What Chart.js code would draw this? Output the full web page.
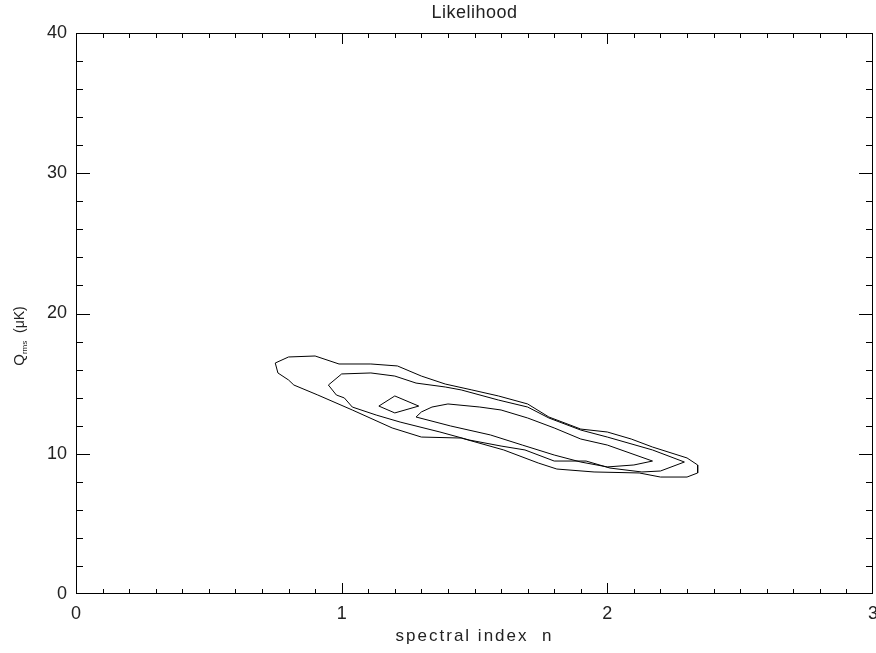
<!DOCTYPE html>
<html>
<head>
<meta charset="utf-8">
<script src="https://cdn.jsdelivr.net/npm/chart.js@4/dist/chart.umd.min.js"></script>
<style>
html,body{margin:0;padding:0;background:#fff;}
#wrap{width:876px;height:653px;position:relative;}
</style>
</head>
<body>
<div id="wrap"><canvas id="c" width="876" height="653"></canvas></div>
<script>
// ---- data (spectral index n , Q_rms in microK) ----
const outerN = [0.75,0.80,0.90,0.99,1.11,1.21,1.30,1.39,1.49,1.59,1.70,1.78,1.90,2.00,2.09,2.17,2.30,2.34,2.34,2.30,2.20,2.12,1.95,1.81,1.74,1.61,1.45,1.30,1.19,1.04,0.91,0.82,0.80,0.76,0.75];
const outerQ = [16.47,16.90,16.97,16.40,16.40,16.26,15.54,14.97,14.55,14.12,13.55,12.62,11.76,11.55,11.05,10.48,9.70,9.20,8.63,8.34,8.34,8.63,8.70,8.91,9.34,10.27,11.12,11.19,11.84,13.12,14.19,14.90,15.26,15.76,16.47];
const middleN = [0.95,1.00,1.11,1.20,1.28,1.39,1.45,1.59,1.70,1.78,1.90,2.00,2.17,2.29,2.20,2.13,2.01,1.92,1.80,1.69,1.60,1.48,1.37,1.22,1.13,1.04,1.01,0.98,0.95];
const middleQ = [14.90,15.69,15.76,15.54,15.04,14.76,14.55,13.83,13.33,12.55,11.69,11.19,10.27,9.41,8.77,8.70,8.98,9.48,9.48,10.27,10.55,10.98,11.55,12.26,12.76,13.33,13.98,14.19,14.90];
const innerN = [1.28,1.30,1.34,1.40,1.52,1.60,1.70,1.80,1.90,2.00,2.17,2.10,2.00,1.90,1.80,1.68,1.56,1.41,1.28];
const innerQ = [12.62,12.98,13.33,13.55,13.33,13.12,12.55,11.84,11.05,10.62,9.48,9.20,9.06,9.41,9.91,10.62,11.34,11.98,12.62];
const peakN = [1.14,1.20,1.29,1.20,1.14];
const peakQ = [13.40,14.12,13.40,12.91,13.40];

const xTickValues = [0,1,2,3];
const yTickValues = [0,10,20,30,40];
const titleText = 'Likelihood';
const xLabelText = 'spectral index  n';

const toPts = (xs, ys) => xs.map((v, i) => ({x: v, y: ys[i]}));
const lineDs = (xs, ys) => ({
  data: toPts(xs, ys), showLine: true, borderColor: '#000', borderWidth: 1,
  pointRadius: 0, tension: 0, fill: false
});

const FONT = "'Liberation Sans','DejaVu Sans',sans-serif";

const decor = {
  id: 'decor',
  afterDraw(chart) {
    const {ctx, chartArea: a, scales: {x, y}} = chart;
    ctx.save();
    ctx.strokeStyle = '#000';
    ctx.lineWidth = 1;
    ctx.strokeRect(Math.round(a.left) + 0.5, Math.round(a.top) + 0.5,
                   Math.round(a.right - a.left) - 1, Math.round(a.bottom - a.top) - 1);
    ctx.beginPath();
    for (let k = 1; k < 30; k++) {
      const v = k / 10;
      const px = Math.round(x.getPixelForValue(v)) + 0.5;
      const len = (k % 10 === 0) ? 11 : 5;
      ctx.moveTo(px, a.bottom); ctx.lineTo(px, a.bottom - len);
      ctx.moveTo(px, a.top); ctx.lineTo(px, a.top + len);
    }
    for (let k = 1; k < 20; k++) {
      const v = k * 2;
      const py = Math.round(y.getPixelForValue(v)) + 0.5;
      const len = (v % 10 === 0) ? 14 : 7;
      ctx.moveTo(a.left, py); ctx.lineTo(a.left + len, py);
      ctx.moveTo(a.right, py); ctx.lineTo(a.right - len, py);
    }
    ctx.stroke();

    ctx.fillStyle = '#222';
    ctx.font = '18px ' + FONT;
    ctx.textAlign = 'center';
    ctx.textBaseline = 'middle';
    if ('letterSpacing' in ctx) ctx.letterSpacing = '0.5px';
    ctx.fillText(titleText, (a.left + a.right) / 2, 13);
    ctx.font = '17px ' + FONT;
    if ('letterSpacing' in ctx) ctx.letterSpacing = '2px';
    ctx.fillText(xLabelText, (a.left + a.right) / 2, 636);
    if ('letterSpacing' in ctx) ctx.letterSpacing = '0px';
    ctx.translate(20, 336);
    ctx.rotate(-Math.PI / 2);
    ctx.textAlign = 'left';
    ctx.textBaseline = 'middle';
    const parts = [['Q', '15px', 0], ['rms', '8px', 5], ['  (\u03BCK)', '14px', 0]];
    let total = 0;
    parts.forEach(p => { ctx.font = p[1] + ' ' + FONT; total += ctx.measureText(p[0]).width; });
    let cx = -total / 2;
    parts.forEach(p => {
      ctx.font = p[1] + ' ' + FONT;
      ctx.fillText(p[0], cx, p[2]);
      cx += ctx.measureText(p[0]).width;
    });
    ctx.restore();
  }
};

new Chart(document.getElementById('c'), {
  type: 'scatter',
  data: {
    datasets: [
      lineDs(outerN, outerQ),
      lineDs(middleN, middleQ),
      lineDs(innerN, innerQ),
      lineDs(peakN, peakQ)
    ]
  },
  options: {
    responsive: false,
    animation: false,
    layout: {padding: {top: 33, right: 3, left: 0, bottom: 0}},
    plugins: {legend: {display: false}, tooltip: {enabled: false}, title: {display: false}},
    scales: {
      x: {
        type: 'linear', min: 0, max: 3,
        afterFit: s => { s.height = 59; s.paddingLeft = 0; s.paddingRight = 0; },
        afterBuildTicks: s => { s.ticks = xTickValues.map(v => ({value: v})); },
        grid: {display: false, drawTicks: false},
        border: {display: false},
        ticks: {padding: 9, color: '#222', font: {family: FONT, size: 18}, maxRotation: 0}
      },
      y: {
        type: 'linear', min: 0, max: 40,
        afterFit: s => { s.width = 76; s.paddingTop = 0; s.paddingBottom = 0; },
        afterBuildTicks: s => { s.ticks = yTickValues.map(v => ({value: v})); },
        grid: {display: false, drawTicks: false},
        border: {display: false},
        ticks: {padding: 9, color: '#222', font: {family: FONT, size: 18}}
      }
    }
  },
  plugins: [decor]
});
</script>
</body>
</html>
